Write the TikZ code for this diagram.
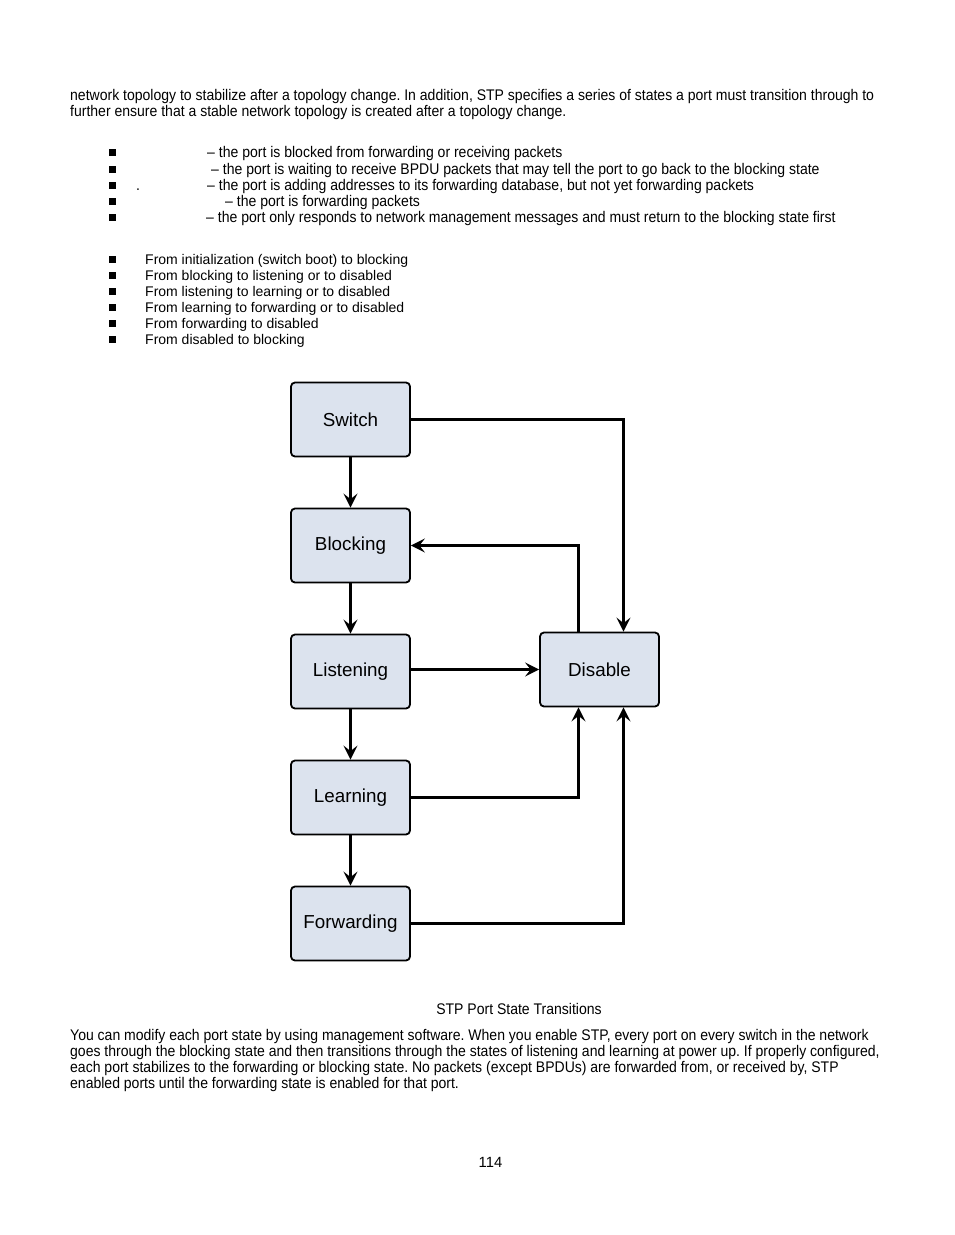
\documentclass[tikz,border=0pt]{standalone}
\usepackage{fontspec}
\setmainfont{Liberation Sans}
\newfontfamily\narrow[FakeStretch=0.91]{Liberation Sans}
\usetikzlibrary{arrows.meta}
\frenchspacing
\begin{document}
\begin{tikzpicture}[x=1pt,y=-1pt,
  body/.style={anchor=base west,inner sep=0pt,font=\narrow\fontsize{15.4}{16}\selectfont},
  plain/.style={anchor=base west,inner sep=0pt,font=\fontsize{14}{16}\selectfont},
  bul/.style={fill=black,minimum size=7pt,inner sep=0pt},
  state/.style={draw=black,line width=1.8pt,rounded corners=4pt,fill=boxfill,minimum width=119pt,minimum height=74pt,inner sep=0pt,font=\fontsize{18.8}{22}\selectfont},
  conn/.style={line width=2.4pt,-{Stealth[length=14pt,width=14pt,inset=5.5pt]}}
]
\definecolor{boxfill}{HTML}{DCE3EE}
\useasboundingbox[fill=white] (0,0) rectangle (954,1235);

% top paragraph
\node[body] (p1) at (70,100) {network topology to stabilize after a topology change. In addition, STP specifies a series of states a port must transition through to};
\node[body] (p2) at (70,116) {further ensure that a stable network topology is created after a topology change.};

% first bullet list
\foreach \yy/\nm in {152/b1,169/b2,185/b3,201/b4,217/b5}{
  \node[bul] (\nm) at (112,\yy) {};
}
\node[body] (l1) at (207,157) {– the port is blocked from forwarding or receiving packets};
\node[body] (l2) at (211,174) {– the port is waiting to receive BPDU packets that may tell the port to go back to the blocking state};
\node[body] (l3d) at (136,190) {.};
\node[body] (l3) at (207,190) {– the port is adding addresses to its forwarding database, but not yet forwarding packets};
\node[body] (l4) at (225,206) {– the port is forwarding packets};
\node[body] (l5) at (206,222) {– the port only responds to network management messages and must return to the blocking state first};

% second bullet list
\foreach \yy/\nm/\tx in {264/c1/{From initialization (switch boot) to blocking},
                        280/c2/{From blocking to listening or to disabled},
                        296/c3/{From listening to learning or to disabled},
                        312/c4/{From learning to forwarding or to disabled},
                        328/c5/{From forwarding to disabled},
                        344/c6/{From disabled to blocking}}{
  \node[bul] (\nm b) at (112,\yy-5) {};
  \node[plain] (\nm) at (145,\yy) {\tx};
}

% diagram
\node[state] (sw) at (350.5,419.5) {Switch};
\node[state] (bl) at (350.5,545.5) {Blocking};
\node[state] (li) at (350.5,671.5) {Listening};
\node[state] (le) at (350.5,797.5) {Learning};
\node[state] (fw) at (350.5,923.5) {Forwarding};
\node[state] (di) at (599.5,669.5) {Disable};

\draw[conn] (sw.south) -- (bl.north);
\draw[conn] (bl.south) -- (li.north);
\draw[conn] (li.south) -- (le.north);
\draw[conn] (le.south) -- (fw.north);
\draw[conn] (li.east |- di.west) -- (di.west);
\coordinate (dtr) at (623.5,0);
\coordinate (dtl) at (578.5,0);
\draw[conn] (sw.east) -| (dtr |- di.north);
\draw[conn] (dtl |- di.north) |- (bl.east);
\draw[conn] (le.east) -| (dtl |- di.south);
\draw[conn] (fw.east) -| (dtr |- di.south);

% caption
\node[body,anchor=base] (cap) at (519,1014) {STP Port State Transitions};

% bottom paragraph
\node[body] (q1) at (70,1040) {You can modify each port state by using management software. When you enable STP, every port on every switch in the network};
\node[body] (q2) at (70,1056) {goes through the blocking state and then transitions through the states of listening and learning at power up. If properly configured,};
\node[body] (q3) at (70,1072) {each port stabilizes to the forwarding or blocking state. No packets (except BPDUs) are forwarded from, or received by, STP};
\node[body] (q4) at (70,1088) {enabled ports until the forwarding state is enabled for that port.};

\node[plain,anchor=base,font=\fontsize{14.8}{16}\selectfont] (pg) at (490.5,1167) {114};
\end{tikzpicture}
\end{document}
